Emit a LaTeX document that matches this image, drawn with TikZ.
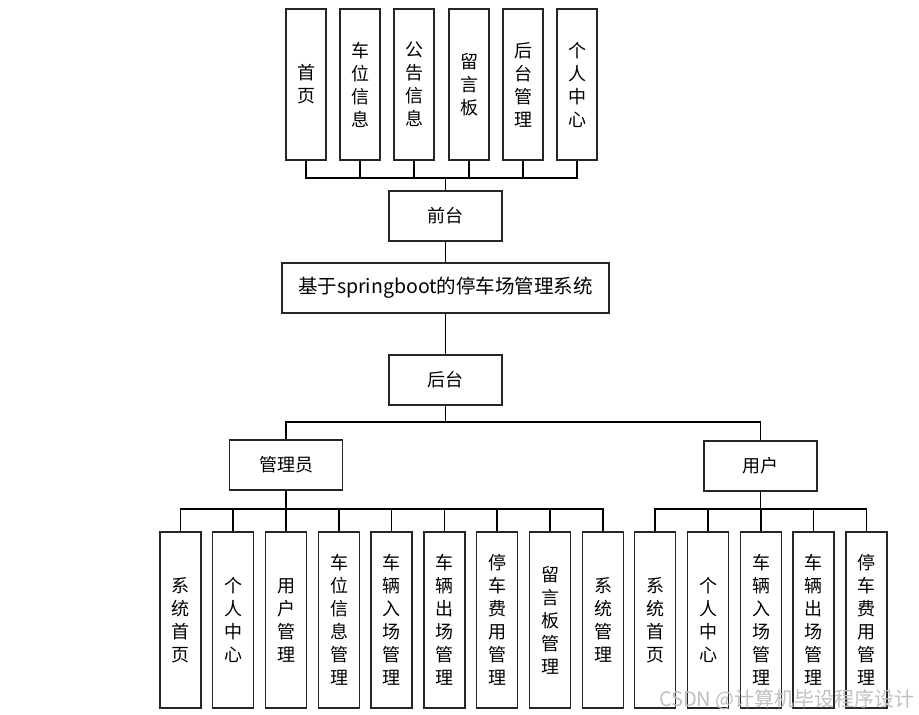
\documentclass[tikz,border=0pt]{standalone}
\usepackage{fontspec}
\newfontfamily\cjk{Noto Sans CJK SC}
\begin{document}
\begin{tikzpicture}[x=1pt,y=-1pt,
  box/.style={draw=black!85, line width=1.2pt, inner sep=0pt, align=center,
    font=\cjk\fontsize{18}{23}\selectfont},
  vbox/.style={box, minimum width=40pt, minimum height=151pt},
  cbox/.style={box, minimum width=41pt, minimum height=176pt},
  wbox/.style={box, minimum width=113pt, minimum height=50pt},
  link/.style={draw=black, line width=1.2pt}]
\useasboundingbox (0,0) rectangle (919,715);
% top
\node[vbox] (t1) at (306,84.5) {首\\页};
\node[vbox] (t2) at (360,84.5) {车\\位\\信\\息};
\node[vbox] (t3) at (414,84.5) {公\\告\\信\\息};
\node[vbox] (t4) at (469,84.5) {留\\言\\板};
\node[vbox] (t5) at (523,84.5) {后\\台\\管\\理};
\node[vbox] (t6) at (577,84.5) {个\\人\\中\\心};
\node[wbox] (qt) at (445.5,216) {前台};
\node[box, minimum width=327pt, minimum height=50pt, font=\cjk\fontsize{19.5}{23}\selectfont] (main) at (445.5,288) {基于springboot的停车场管理系统};
\node[wbox] (ht) at (445.5,380) {后台};
\node[wbox] (gly) at (286,465) {管理员};
\node[wbox] (yh) at (760.5,466) {用户};
% admin children
\node[cbox] (a1) at (180.5,620) {系\\统\\首\\页};
\node[cbox] (a2) at (233,620) {个\\人\\中\\心};
\node[cbox] (a3) at (286,620) {用\\户\\管\\理};
\node[cbox] (a4) at (339,620) {车\\位\\信\\息\\管\\理};
\node[cbox] (a5) at (391.5,620) {车\\辆\\入\\场\\管\\理};
\node[cbox] (a6) at (444.5,620) {车\\辆\\出\\场\\管\\理};
\node[cbox] (a7) at (497,620) {停\\车\\费\\用\\管\\理};
\node[cbox] (a8) at (550,620) {留\\言\\板\\管\\理};
\node[cbox] (a9) at (603,620) {系\\统\\管\\理};
% user children
\node[cbox] (u1) at (655,620) {系\\统\\首\\页};
\node[cbox] (u2) at (708,620) {个\\人\\中\\心};
\node[cbox] (u3) at (761,620) {车\\辆\\入\\场\\管\\理};
\node[cbox] (u4) at (813.5,620) {车\\辆\\出\\场\\管\\理};
\node[cbox] (u5) at (866.5,620) {停\\车\\费\\用\\管\\理};
% connectors
\coordinate (tb) at (445.5,178);
\foreach \n in {t1,t2,t3,t4,t5,t6} \draw[link] (\n.south) |- (tb);
\draw[link] (tb) -- (qt.north);
\draw[link] (qt.south) -- (main.north);
\draw[link] (main.south) -- (ht.north);
\coordinate (hb) at (445.5,422);
\draw[link] (ht.south) -- (hb);
\draw[link] (hb) -| (gly.north);
\draw[link] (hb) -| (yh.north);
\coordinate (ab) at (286,509);
\draw[link] (gly.south) -- (ab);
\foreach \n in {a1,a2,a3,a4,a5,a6,a7,a8,a9} \draw[link] (ab) -| (\n.north);
\coordinate (ub) at (760.5,509);
\draw[link] (yh.south) -- (ub);
\foreach \n in {u1,u2,u3,u4,u5} \draw[link] (ub) -| (\n.north);
% watermark
\node[text=black!25, font=\cjk\fontsize{20}{20}\selectfont, anchor=east, inner sep=0pt] (wm) at (915,700) {CSDN @计算机毕设程序设计};
\end{tikzpicture}
\end{document}
